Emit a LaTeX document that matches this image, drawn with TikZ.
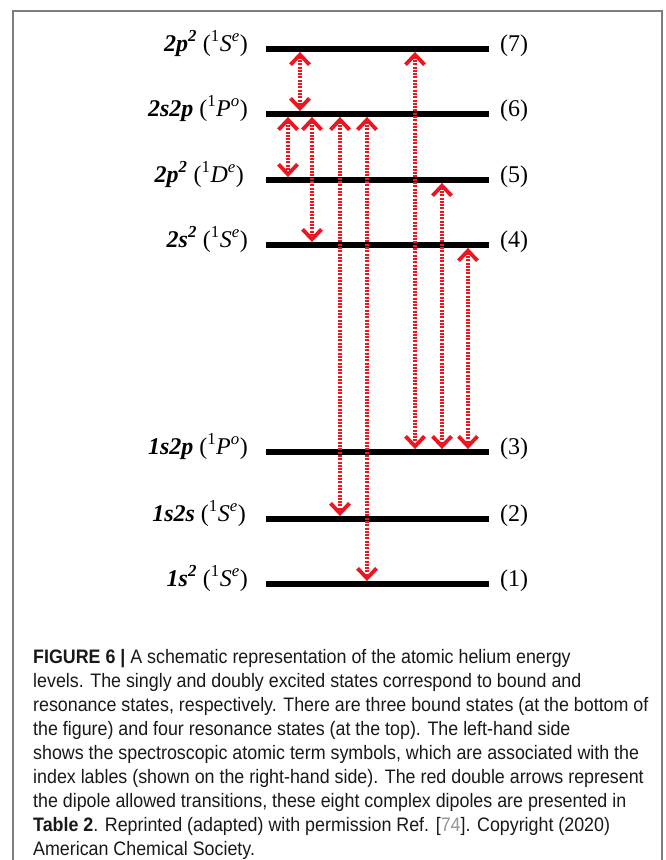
\documentclass[tikz,border=0pt]{standalone}
\usepackage{fontspec}
\setmainfont{Liberation Serif}
\newfontfamily\capfont{Liberation Sans}[FakeStretch=0.915]
\usetikzlibrary{arrows.meta}
\definecolor{dipred}{RGB}{236,22,32}
\definecolor{framegray}{RGB}{125,125,125}
\definecolor{refgray}{RGB}{150,150,150}
\definecolor{captext}{RGB}{25,25,25}
\newcommand\termlab[3]{{\bfseries\itshape #1}\ (\textsuperscript{1}\textit{#2}\textsuperscript{\textit{#3}})}
\begin{document}
\begin{tikzpicture}[x=1pt,y=-1pt,
  level/.style={rectangle, fill=black, inner sep=0pt, minimum width=223pt, minimum height=5.5pt, anchor=west},
  termtext/.style={anchor=base east, inner sep=0pt, font=\fontsize{24}{26}\selectfont},
  idxtext/.style={anchor=base west, inner sep=0pt, font=\fontsize{24}{26}\selectfont},
  dip/.style={draw=dipred, line width=3.8pt, dash pattern=on 2pt off 1.3pt,
    {Straight Barb[length=10pt,width=19pt,line width=3.8pt]}-{Straight Barb[length=10pt,width=19pt,line width=3.8pt]}},
  capline/.style={anchor=base west, inner sep=0pt, text=captext, font=\capfont\fontsize{19.5}{24}\selectfont}
]
\useasboundingbox (0,0) rectangle (665,860);
\fill[white] (0,0) rectangle (665,860);
% frame
\coordinate (fbl) at (13,860);
\coordinate (ftl) at (13,11);
\coordinate (ftr) at (662,11);
\coordinate (fbr) at (662,860);
\draw[framegray, line width=1.4pt] (fbl) -- (ftl) -- (ftr) -- (fbr);
% levels
\node[level] (lv7) at (266,49) {};
\node[level] (lv6) at (266,114) {};
\node[level] (lv5) at (266,180) {};
\node[level] (lv4) at (266,245) {};
\node[level] (lv3) at (266,452) {};
\node[level] (lv2) at (266,519) {};
\node[level] (lv1) at (266,584) {};
% term symbols
\node[termtext] (t7) at (248,51) {\termlab{2p\textsuperscript{2}}{S}{e}};
\node[termtext] (t6) at (248,116) {\termlab{2s2p}{P}{o}};
\node[termtext] (t5) at (244,182) {\termlab{2p\textsuperscript{2}}{D}{e}};
\node[termtext] (t4) at (248,247) {\termlab{2s\textsuperscript{2}}{S}{e}};
\node[termtext] (t3) at (248,454) {\termlab{1s2p}{P}{o}};
\node[termtext] (t2) at (246,521) {\termlab{1s2s}{S}{e}};
\node[termtext] (t1) at (248,586) {\termlab{1s\textsuperscript{2}}{S}{e}};
% index labels
\node[idxtext] (i7) at (500,51) {(7)};
\node[idxtext] (i6) at (500,116) {(6)};
\node[idxtext] (i5) at (500,182) {(5)};
\node[idxtext] (i4) at (500,247) {(4)};
\node[idxtext] (i3) at (500,454) {(3)};
\node[idxtext] (i2) at (500,521) {(2)};
\node[idxtext] (i1) at (500,586) {(1)};
% dipole transitions
\draw[dip] ([xshift=34pt]lv7.south west) -- ([xshift=34pt]lv6.north west);
\draw[dip] ([xshift=22pt]lv6.south west) -- ([xshift=22pt]lv5.north west);
\draw[dip] ([xshift=46pt]lv6.south west) -- ([xshift=46pt]lv4.north west);
\draw[dip] ([xshift=74pt]lv6.south west) -- ([xshift=74pt]lv2.north west);
\draw[dip] ([xshift=101pt]lv6.south west) -- ([xshift=101pt]lv1.north west);
\draw[dip] ([xshift=149pt]lv7.south west) -- ([xshift=149pt]lv3.north west);
\draw[dip] ([xshift=176pt]lv5.south west) -- ([xshift=176pt]lv3.north west);
\draw[dip] ([xshift=202pt]lv4.south west) -- ([xshift=202pt]lv3.north west);
% caption
\node[capline] (c1) at (33,663) {\textbf{FIGURE 6 |} A schematic representation of the atomic helium energy};
\node[capline] (c2) at (33,687) {levels. The singly and doubly excited states correspond to bound and};
\node[capline] (c3) at (33,711) {resonance states, respectively. There are three bound states (at the bottom of};
\node[capline] (c4) at (33,735) {the figure) and four resonance states (at the top). The left-hand side};
\node[capline] (c5) at (33,759) {shows the spectroscopic atomic term symbols, which are associated with the};
\node[capline] (c6) at (33,783) {index lables (shown on the right-hand side). The red double arrows represent};
\node[capline] (c7) at (33,807) {the dipole allowed transitions, these eight complex dipoles are presented in};
\node[capline] (c8) at (33,831) {\textbf{Table 2}. Reprinted (adapted) with permission Ref. [{\color{refgray}74}]. Copyright (2020)};
\node[capline] (c9) at (33,855) {American Chemical Society.};
\end{tikzpicture}
\end{document}
